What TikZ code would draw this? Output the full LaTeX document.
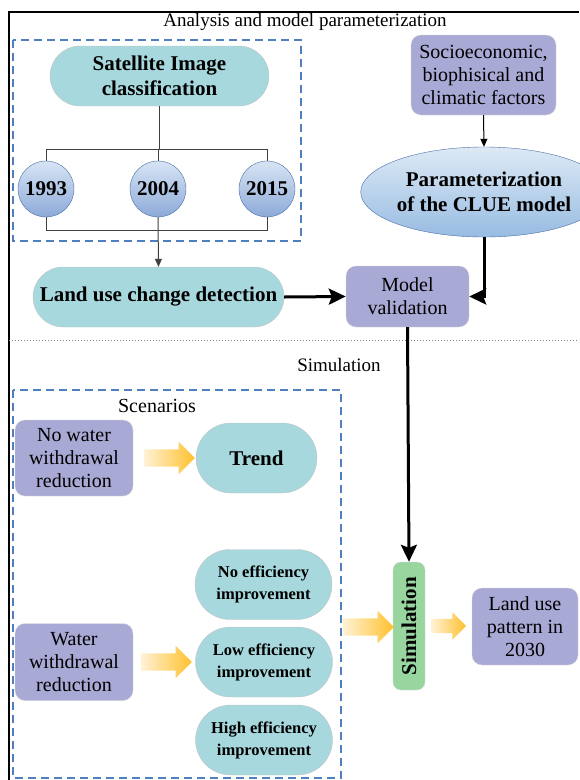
\documentclass[tikz,border=0pt]{standalone}
\usepackage{fontspec}
\setmainfont{Liberation Serif}
\usetikzlibrary{shapes.geometric,shapes.arrows,arrows.meta,positioning,calc}
\definecolor{aqua}{HTML}{A6D8DD}
\definecolor{lav}{HTML}{A9A9D6}
\definecolor{mint}{HTML}{98D59F}
\definecolor{dashblue}{HTML}{4F7FBE}
\definecolor{ringblue}{HTML}{4A6DA8}
\definecolor{circtop}{HTML}{D8E4F4}
\definecolor{circbot}{HTML}{8CAAD8}
\definecolor{ovaltop}{HTML}{DDE9F5}
\definecolor{ovalbot}{HTML}{98BCE2}
\definecolor{arrowgold}{HTML}{FFC02E}
\tikzstyle{pill} = [rectangle, draw=gray!45, fill=aqua, align=center, inner sep=0pt, font=\fontsize{21}{25}\selectfont\bfseries]
\tikzstyle{effpill} = [pill, rounded corners=35pt, minimum width=137pt, minimum height=70pt, font=\fontsize{16.5}{22}\selectfont\bfseries]
\tikzstyle{lavbox} = [rectangle, rounded corners=10pt, draw=gray!30, fill=lav, align=center, inner sep=0pt, font=\fontsize{20}{23}\selectfont]
\tikzstyle{yearc} = [circle, draw=ringblue, top color=circtop, bottom color=circbot, minimum size=56pt, inner sep=0pt, font=\fontsize{21}{25}\selectfont\bfseries]
\tikzstyle{fat} = [single arrow, draw=none, left color=arrowgold!20, right color=arrowgold, single arrow head extend=7.5pt, inner xsep=0pt, inner ysep=8.5pt, minimum height=51pt]
\tikzstyle{arrow} = [line width=3pt, -{Stealth[length=17pt,width=16pt,inset=3pt]}]
\tikzstyle{thinarrow} = [line width=1pt, -{Triangle[length=8pt,width=7pt]}]
\tikzstyle{tree} = [line width=1pt, draw=black!75]
\tikzstyle{dbox} = [draw=dashblue, dash pattern=on 8pt off 5pt, line width=1.3pt]
\tikzstyle{lbl} = [font=\fontsize{20}{23}\selectfont]

\begin{document}
\begin{tikzpicture}[x=1pt,y=-1pt]
\useasboundingbox (0,0) rectangle (579,780);

% frame and sections
\draw[line width=1.2pt] (579,12) -- (9,12) -- (9,780);
\node[lbl] (title) at (305,22) {\fontsize{19}{22}\selectfont Analysis and model parameterization};
\draw[dbox] (13,40) rectangle (301,241);
\draw[dotted, line width=1pt, gray] (9,340) -- (579,340);
\node[lbl] (simlbl) at (339,365) {\fontsize{19}{22}\selectfont Simulation};
\draw[dbox] (13,390) rectangle (341,778);
\node[lbl] (scen) at (157,406) {Scenarios};

% analysis part
\node[pill, rounded corners=30pt, minimum width=219pt, minimum height=60pt] (sat) at (159.5,76) {Satellite Image\\classification};
\node[yearc] (y93) at (46,189) {1993};
\node[yearc] (y04) at (158,189) {2004};
\node[yearc] (y15) at (267,189) {2015};
\coordinate (tbar) at (158,149);
\coordinate (bbar) at (158,230);
\draw[tree] (sat.south) -- (sat.south |- tbar);
\draw[tree] (y93.north) |- (y15.north |- tbar) -- (y15.north);
\draw[tree] (y04.north) -- (y04.north |- tbar);
\draw[tree] (y93.south) |- (y15.south |- bbar) -- (y15.south);
\node[pill, rounded corners=30pt, minimum width=251pt, minimum height=60pt] (lucd) at (158.5,297) {Land use change detection};
\draw[thinarrow, black!75] (y04.south) -- (lucd.north);

\node[lavbox, minimum width=145pt, minimum height=80pt] (socio) at (483.5,75) {Socioeconomic,\\biophisical and\\climatic factors};
\node[ellipse, draw=ringblue, top color=ovaltop, bottom color=ovalbot, minimum width=188pt, minimum height=90pt, inner sep=0pt, align=center, font=\fontsize{21}{25}\selectfont\bfseries] (clue) at (484,192) {Parameterization\\of the CLUE model};
\draw[thinarrow] (socio.south) -- (clue.north);

\node[lavbox, minimum width=123pt, minimum height=61pt] (mv) at (407.5,296.5) {Model\\validation};
\draw[arrow] (lucd.east) -- (mv.west);
\draw[arrow] (clue.south) |- (mv.east);

% simulation part
\node[lavbox, minimum width=118pt, minimum height=76pt] (nwr) at (74,458) {No water\\withdrawal\\reduction};
\node[pill, rounded corners=35pt, minimum width=121pt, minimum height=70pt] (trend) at (256.5,458) {Trend};
\node[lavbox, minimum width=118pt, minimum height=77pt] (wr) at (74,662) {Water\\withdrawal\\reduction};
\node[effpill] (noeff) at (263.5,584.5) {No efficiency\\improvement};
\node[effpill] (loweff) at (264,662) {Low efficiency\\improvement};
\node[effpill] (higheff) at (264,740) {High efficiency\\improvement};

\node[rectangle, rounded corners=8pt, draw=gray!30, fill=mint, rotate=90, minimum width=128pt, minimum height=32pt, inner sep=0pt, font=\fontsize{21}{25}\selectfont\bfseries] (sim) at (409,626) {Simulation};
\node[lavbox, minimum width=106pt, minimum height=77pt] (lup) at (525,626.5) {Land use\\pattern in\\2030};
\draw[arrow] (mv.south) -- (sim.east);

\node[fat] (a1) at (165,458) {};
\node[fat] (a2) at (162,662) {};
\node[fat] (a3) at (364,627) {};
\node[fat, minimum height=35pt, inner ysep=7pt, single arrow head extend=6.5pt] (a4) at (445,626) {};

\end{tikzpicture}
\end{document}
